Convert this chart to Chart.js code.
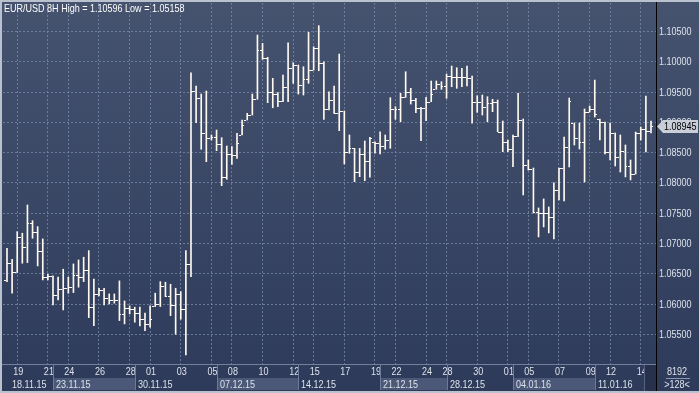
<!DOCTYPE html>
<html>
<head>
<meta charset="utf-8">
<script src="https://cdn.jsdelivr.net/npm/chart.js@4.4.1/dist/chart.umd.min.js"></script>
<style>
  html, body { margin: 0; padding: 0; background: #b9c1cf; }
  #wrap { width: 699px; height: 393px; }
</style>
</head>
<body>
<div id="wrap"><canvas id="chart" width="699" height="393"></canvas></div>
<script>
// EUR/USD 8H bars, 18.11.15 - 14.01.16
const opens = [
  1.06393, 1.06674, 1.06530, 1.07113, 1.06948, 1.07344, 1.07185, 1.06872, 1.06443, 1.06464,
  1.06151, 1.06245, 1.06261, 1.06288, 1.06476, 1.06453, 1.06563, 1.05958, 1.06162, 1.06233,
  1.06096, 1.06068, 1.06068, 1.05837, 1.05936, 1.05920, 1.05849, 1.05755, 1.05672, 1.05965,
  1.06002, 1.06304, 1.06134, 1.05981, 1.06162, 1.05915, 1.06657, 1.09517, 1.09396, 1.08819,
  1.08736, 1.08753, 1.08642, 1.08103, 1.08472, 1.08456, 1.08791, 1.09038, 1.09121, 1.09380,
  1.10193, 1.10056, 1.09505, 1.09467, 1.09357, 1.09588, 1.09891, 1.09946, 1.09611, 1.09710,
  1.09863, 1.10221, 1.09974, 1.09215, 1.09368, 1.09149, 1.09187, 1.08505, 1.08571, 1.08175,
  1.08472, 1.08357, 1.08680, 1.08664, 1.08609, 1.08708, 1.09215, 1.09215, 1.09413, 1.09505,
  1.09368, 1.09231, 1.09231, 1.09340, 1.09545, 1.09627, 1.09599, 1.09764, 1.09743, 1.09743,
  1.09743, 1.09726, 1.09340, 1.09340, 1.09258, 1.09324, 1.09340, 1.08845, 1.08670, 1.08555,
  1.08774, 1.09038, 1.08296, 1.08230, 1.07520, 1.07504, 1.07504, 1.07438, 1.07883, 1.08246,
  1.08593, 1.08989, 1.08741, 1.08675, 1.09170, 1.09220, 1.09055, 1.09005, 1.08510, 1.08824,
  1.08428, 1.08527, 1.08279, 1.08147, 1.08824, 1.08890, 1.08857
];
const highs = [
  1.06921, 1.06740, 1.07195, 1.07169, 1.07636, 1.07377, 1.07278, 1.07075, 1.06492, 1.06464,
  1.06443, 1.06575, 1.06443, 1.06662, 1.06728, 1.06773, 1.06882, 1.06410, 1.06261, 1.06261,
  1.06167, 1.06167, 1.06382, 1.06052, 1.05969, 1.05948, 1.05948, 1.05849, 1.05969, 1.06179,
  1.06370, 1.06360, 1.06327, 1.06261, 1.06205, 1.06882, 1.09819, 1.09599, 1.09467, 1.09517,
  1.08791, 1.08873, 1.08746, 1.08609, 1.08598, 1.08819, 1.09038, 1.09149, 1.09467, 1.10441,
  1.10304, 1.10073, 1.09726, 1.09489, 1.09781, 1.10314, 1.09984, 1.09946, 1.09918, 1.10485,
  1.10248, 1.10596, 1.10000, 1.09505, 1.09599, 1.10127, 1.09187, 1.08791, 1.08571, 1.08571,
  1.08692, 1.08753, 1.08680, 1.08845, 1.08791, 1.09406, 1.09258, 1.09479, 1.09835, 1.09561,
  1.09396, 1.09248, 1.09413, 1.09682, 1.09682, 1.09670, 1.09797, 1.09929, 1.09901, 1.09891,
  1.09929, 1.09764, 1.09439, 1.09451, 1.09423, 1.09380, 1.09368, 1.09022, 1.08708, 1.08791,
  1.09479, 1.09055, 1.08378, 1.08246, 1.07586, 1.07735, 1.07603, 1.07999, 1.08246, 1.08758,
  1.09401, 1.08989, 1.08989, 1.09220, 1.09269, 1.09698, 1.09055, 1.09005, 1.08989, 1.08824,
  1.08791, 1.08626, 1.08378, 1.08840, 1.08923, 1.09434, 1.09022
];
const lows = [
  1.06370, 1.06179, 1.06519, 1.06674, 1.06684, 1.07086, 1.06629, 1.06398, 1.06398, 1.05986,
  1.06068, 1.05903, 1.06179, 1.06189, 1.06278, 1.06370, 1.05776, 1.05644, 1.06134, 1.05986,
  1.06002, 1.06014, 1.05727, 1.05672, 1.05837, 1.05700, 1.05639, 1.05562, 1.05618, 1.05958,
  1.05958, 1.06123, 1.05809, 1.05502, 1.05750, 1.05158, 1.06453, 1.08994, 1.08555, 1.08350,
  1.08708, 1.08532, 1.07954, 1.08060, 1.08307, 1.08406, 1.08791, 1.09038, 1.09121, 1.09380,
  1.10040, 1.09324, 1.09241, 1.09258, 1.09340, 1.09340, 1.09644, 1.09467, 1.09451, 1.09644,
  1.09863, 1.09852, 1.09050, 1.09203, 1.09149, 1.08862, 1.08312, 1.08489, 1.08020, 1.08103,
  1.08037, 1.08093, 1.08489, 1.08477, 1.08555, 1.08571, 1.09050, 1.09010, 1.09413, 1.09302,
  1.09159, 1.08697, 1.09027, 1.09340, 1.09545, 1.09545, 1.09396, 1.09588, 1.09561, 1.09588,
  1.09599, 1.08984, 1.09165, 1.09121, 1.09010, 1.09175, 1.08845, 1.08515, 1.08515, 1.08268,
  1.08763, 1.07801, 1.08213, 1.07504, 1.07108, 1.07273, 1.07174, 1.07075, 1.07718, 1.07702,
  1.08263, 1.08626, 1.08560, 1.08015, 1.09170, 1.09088, 1.08708, 1.08477, 1.08378, 1.08279,
  1.08180, 1.08098, 1.08048, 1.08147, 1.08708, 1.08510, 1.08824
];
const closes = [
  1.06674, 1.06530, 1.07113, 1.06948, 1.07344, 1.07185, 1.06872, 1.06443, 1.06464, 1.06151,
  1.06245, 1.06261, 1.06288, 1.06476, 1.06453, 1.06563, 1.05958, 1.06162, 1.06233, 1.06096,
  1.06068, 1.06068, 1.05837, 1.05936, 1.05920, 1.05849, 1.05755, 1.05672, 1.05750, 1.06002,
  1.06304, 1.06134, 1.05981, 1.06162, 1.05915, 1.06657, 1.09517, 1.09396, 1.08819, 1.08736,
  1.08753, 1.08642, 1.08103, 1.08472, 1.08456, 1.08654, 1.08956, 1.09121, 1.09380, 1.10193,
  1.10056, 1.09505, 1.09467, 1.09357, 1.09588, 1.09891, 1.09946, 1.09611, 1.09710, 1.09863,
  1.10221, 1.09974, 1.09215, 1.09368, 1.09149, 1.09192, 1.08505, 1.08581, 1.08175, 1.08472,
  1.08357, 1.08736, 1.08664, 1.08609, 1.08708, 1.09215, 1.09215, 1.09413, 1.09505, 1.09368,
  1.09231, 1.09231, 1.09330, 1.09467, 1.09627, 1.09599, 1.09764, 1.09743, 1.09743, 1.09743,
  1.09726, 1.09340, 1.09340, 1.09258, 1.09324, 1.09340, 1.08845, 1.08670, 1.08555, 1.08774,
  1.09038, 1.08296, 1.08230, 1.07520, 1.07504, 1.07504, 1.07438, 1.07883, 1.08246, 1.08593,
  1.09352, 1.08741, 1.08675, 1.09170, 1.09220, 1.09137, 1.09005, 1.08510, 1.08824, 1.08428,
  1.08527, 1.08279, 1.08147, 1.08824, 1.08890, 1.08857, 1.08945
];

// day ticks (bar number where the day starts) and week groups
const dayTicks = [3, 9, 13, 19, 25, 29, 35, 41, 45, 51, 57, 61, 67, 73, 77, 83, 87, 93, 99, 103, 109, 115, 119, 125];
const dayLabels = ['19', '21', '24', '26', '28', '01', '03', '05', '08', '10', '12', '15', '17',
                   '19', '22', '24', '28', '30', '01', '05', '07', '09', '12', '14'];
const weekStarts = [1, 10, 26, 42, 58, 74, 87, 100, 116];
const weekLabels = ['18.11.15', '23.11.15', '30.11.15', '07.12.15', '14.12.15', '21.12.15', '28.12.15', '04.01.16', '11.01.16'];
const priceTicks = [1.055, 1.06, 1.065, 1.07, 1.075, 1.08, 1.085, 1.09, 1.095, 1.10, 1.105];

const title = 'EUR/USD 8H High = 1.10596 Low = 1.05158';
const barColor = '#fff9ef';
const textColor = '#dde2ea';
const gridColor = 'rgba(118,136,170,0.8)';
const fontFamily = "'Liberation Sans', Arial, sans-serif";
const squeeze = 0.82; // terminal font is narrower than Liberation Sans

// draws text squeezed horizontally
function narrowText(ctx, str, x, y, align) {
    const w = ctx.measureText(str).width * squeeze;
    const left = align === 'center' ? x - w / 2 : align === 'right' ? x - w : x;
    ctx.save();
    ctx.translate(left, y);
    ctx.scale(squeeze, 1);
    ctx.textAlign = 'left';
    ctx.fillText(str, 0, 0);
    ctx.restore();
}

// open tick on the left, close tick on the right of each high-low bar
const ohlcTicks = {
    id: 'ohlcTicks',
    afterDatasetsDraw(chart) {
        const { ctx, scales: { x, y } } = chart;
        ctx.save();
        ctx.fillStyle = barColor;
        opens.forEach((o, i) => {
            const px = Math.floor(x.getPixelForValue(i + 1) - 0.5);
            ctx.fillRect(px - 2, Math.round(y.getPixelForValue(o)), 2, 1);
            ctx.fillRect(px + 1, Math.round(y.getPixelForValue(closes[i])), 2, 1);
        });
        ctx.restore();
    }
};

const frame = {
    id: 'frame',
    beforeDraw(chart) {
        const { ctx } = chart;
        ctx.save();
        ctx.fillStyle = '#b9c1cf';
        ctx.fillRect(0, 0, 699, 393);
        const g = ctx.createLinearGradient(0, 2, 0, 391);
        g.addColorStop(0, '#46536f');
        g.addColorStop(1, '#2d3a5a');
        ctx.fillStyle = g;
        ctx.fillRect(2, 2, 697, 389);
        ctx.restore();
    },
    afterDraw(chart) {
        const { ctx, chartArea: a, scales: { x, y } } = chart;
        ctx.save();
        ctx.font = '11px ' + fontFamily;
        ctx.textBaseline = 'middle';

        // date axis: top line, day labels and week groups
        ctx.fillStyle = '#72809e';
        ctx.fillRect(2, a.bottom, a.right - 2, 1);
        ctx.fillStyle = textColor;
        dayTicks.forEach((d, i) => narrowText(ctx, dayLabels[i], x.getPixelForValue(d) + 1, a.bottom + 8, 'center'));
        weekStarts.forEach((s, k) => {
            const x0 = Math.round(x.getPixelForValue(s));
            const x1 = k + 1 < weekStarts.length ? Math.round(x.getPixelForValue(weekStarts[k + 1])) : a.right;
            if (k % 2 === 1) {
                ctx.fillStyle = '#4b5877';
                ctx.fillRect(x0, a.bottom + 14, x1 - x0, 12);
            }
            if (k > 0) {
                ctx.fillStyle = '#6d7b99';
                ctx.fillRect(x0, a.bottom, 1, 26);
            }
            ctx.fillStyle = textColor;
            narrowText(ctx, weekLabels[k], x0 + (k === 0 ? 5 : 3), a.bottom + 20.5, 'left');
        });

        // scroll thumb
        ctx.fillStyle = '#27314b';
        ctx.fillRect(645, a.bottom + 1, 11, 26);
        ctx.fillStyle = '#56627f';
        ctx.fillRect(644, a.bottom + 1, 1, 26);

        // price labels
        ctx.fillStyle = textColor;
        priceTicks.forEach(v => narrowText(ctx, v.toFixed(5), 659, y.getPixelForValue(v) + 0.5, 'left'));

        // bottom right counters
        narrowText(ctx, '8192', 677, a.bottom + 7.5, 'center');
        narrowText(ctx, '>128<', 677, a.bottom + 21, 'center');
        ctx.fillStyle = '#8a96b0';
        ctx.fillRect(666, a.bottom + 14, 24, 1);

        // last price tag
        const last = closes[closes.length - 1];
        const py = Math.round(y.getPixelForValue(last));
        ctx.beginPath();
        ctx.moveTo(657, py + 0.5);
        ctx.lineTo(663, py - 6);
        ctx.lineTo(698, py - 6);
        ctx.lineTo(698, py + 7);
        ctx.lineTo(663, py + 7);
        ctx.closePath();
        ctx.fillStyle = '#c9ced8';
        ctx.fill();
        ctx.fillStyle = '#000';
        narrowText(ctx, last.toFixed(5), 664, py + 1, 'left');

        // separator between plot and price axis
        ctx.fillStyle = '#000';
        ctx.fillRect(656, 2, 1, 389);

        // header
        ctx.fillStyle = '#ffffff';
        narrowText(ctx, title, 4, 9, 'left');
        ctx.restore();
    }
};

new Chart(document.getElementById('chart'), {
    type: 'bar',
    data: {
        datasets: [{
            label: 'EUR/USD',
            data: lows.map((l, i) => ({ x: i + 1, y: [l, highs[i]] })),
            backgroundColor: barColor,
            borderWidth: 0,
            barThickness: 1
        }]
    },
    options: {
        responsive: false,
        animation: false,
        layout: { padding: { left: 3, top: 3, right: 0, bottom: 2 } },
        plugins: {
            legend: { display: false },
            tooltip: { enabled: false }
        },
        scales: {
            x: {
                type: 'linear',
                min: 0.22,
                max: 127.98,
                offset: false,
                afterBuildTicks(s) { s.ticks = dayTicks.map(v => ({ value: v })); },
                afterFit(s) { s.height = 27; },
                ticks: { display: false, autoSkip: false, maxRotation: 0 },
                grid: { color: gridColor, drawTicks: false, offset: false },
                border: { display: false, dash: [2, 2] }
            },
            y: {
                position: 'right',
                min: 1.0501,
                max: 1.1097,
                afterBuildTicks(s) { s.ticks = priceTicks.map(v => ({ value: v })); },
                afterFit(s) { s.width = 43; },
                ticks: { display: false },
                grid: { color: gridColor, drawTicks: false },
                border: { display: false, dash: [2, 2] }
            }
        }
    },
    plugins: [frame, ohlcTicks]
});
</script>
</body>
</html>
